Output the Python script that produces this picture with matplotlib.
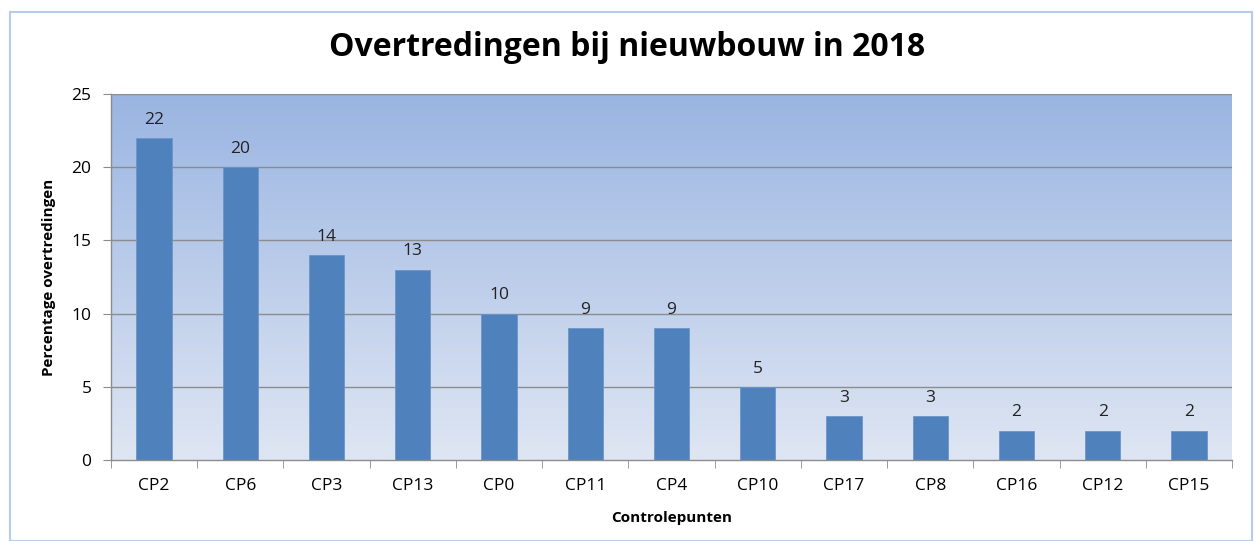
import matplotlib
matplotlib.use("Agg")
import matplotlib.pyplot as plt
import numpy as np
from matplotlib.patches import Rectangle

categories = ["CP2", "CP6", "CP3", "CP13", "CP0", "CP11", "CP4", "CP10", "CP17", "CP8", "CP16", "CP12", "CP15"]
values = [22, 20, 14, 13, 10, 9, 9, 5, 3, 3, 2, 2, 2]
yticks = [0, 5, 10, 15, 20, 25]

plt.rcParams['font.family'] = ['Open Sans', 'DejaVu Sans']

fig = plt.figure(figsize=(12.54, 5.41), dpi=100)
fig.patch.set_facecolor('white')
fig.patches.append(Rectangle((10/1254, 0), 1 - 12/1254, 1 - 12/541, transform=fig.transFigure,
                             fill=False, edgecolor='#B7CBEA', linewidth=1.5))

ax = fig.add_axes([111/1254, 1 - 460/541, (1232 - 111)/1254, (460 - 94)/541])
x = np.arange(len(categories))
ax.set_xlim(-0.5, len(categories) - 0.5)
ax.set_ylim(0, 25)

# gradient background
top = np.array([0x9A, 0xB5, 0xE2]) / 255
bot = np.array([0xDF, 0xE6, 0xF3]) / 255
t = np.linspace(0, 1, 256)[:, None]
grad = (top * (1 - t) + bot * t)[:, None, :]
grad = np.repeat(grad, 2, axis=1)
ax.imshow(grad, extent=[-0.5, len(categories) - 0.5, 0, 25], aspect='auto', zorder=0, origin='upper')

for yv in yticks[1:]:
    ax.axhline(yv, color='#8C8C8C', linewidth=1.0, zorder=1)

bars = ax.bar(x, values, width=0.41, color='#4F81BD', zorder=2, edgecolor='#6C95C8', linewidth=0.6)
for xi, v in zip(x, values):
    ax.text(xi, v + 0.7, str(v), ha='center', va='bottom', fontsize=12.5, color='#222222')

ax.set_yticks(yticks)
ax.set_yticklabels([str(v) for v in yticks], fontsize=12.5)
ax.set_xticks(x)
ax.set_xticklabels(categories, fontsize=12.5)
ax.set_xticks(np.arange(-0.5, len(categories)), minor=True)
ax.tick_params(axis='x', which='major', length=0, pad=13)
ax.tick_params(axis='x', which='minor', length=6, color='#8C8C8C', direction='out')
ax.tick_params(axis='y', length=6, color='#8C8C8C', pad=8)

for s in ['top', 'right']:
    ax.spines[s].set_visible(False)
for s in ['left', 'bottom']:
    ax.spines[s].set_color('#8C8C8C')
    ax.spines[s].set_linewidth(1.0)

ax.set_xlabel("Controlepunten", fontsize=11, fontweight='bold', labelpad=12)
ax.set_ylabel("Percentage overtredingen", fontsize=11, fontweight='bold', labelpad=11)

fig.text(0.5, 1 - 48/541, "Overtredingen bij nieuwbouw in 2018", ha='center', va='center',
         fontsize=23, fontweight='bold')

fig.savefig("out.png", dpi=100)
